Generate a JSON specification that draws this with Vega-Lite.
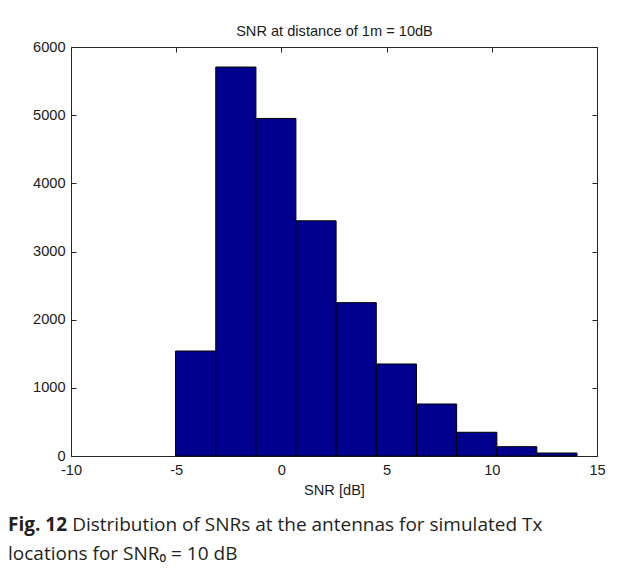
{
  "$schema": "https://vega.github.io/schema/vega-lite/v6.json",
  "autosize": "none",
  "width": 526,
  "height": 409,
  "padding": {"left": 71, "top": 47, "right": 29, "bottom": 121},
  "background": "white",
  "data": {
    "values": [
      {"lo": -5.03, "hi": -3.12, "count": 1540},
      {"lo": -3.12, "hi": -1.21, "count": 5706},
      {"lo": -1.21, "hi": 0.69, "count": 4952},
      {"lo": 0.69, "hi": 2.60, "count": 3450},
      {"lo": 2.60, "hi": 4.51, "count": 2250},
      {"lo": 4.51, "hi": 6.42, "count": 1350},
      {"lo": 6.42, "hi": 8.33, "count": 763},
      {"lo": 8.33, "hi": 10.24, "count": 348},
      {"lo": 10.24, "hi": 12.14, "count": 137},
      {"lo": 12.14, "hi": 14.05, "count": 44}
    ]
  },
  "title": {
    "text": "Fig. 12",
    "subtitle": ["\u200c\u00a0\u00a0\u00a0\u00a0\u00a0\u00a0\u00a0\u00a0\u00a0\u00a0\u00a0\u00a0\u00a0Distribution of SNRs at the antennas for simulated Tx", "locations for SNR\u2080 = 10 dB"],
    "orient": "bottom",
    "anchor": "start",
    "frame": "group",
    "dx": -63,
    "offset": 19,
    "font": "Open Sans",
    "fontSize": 19,
    "fontWeight": "bold",
    "color": "#231f20",
    "subtitleFont": "Open Sans",
    "subtitleFontSize": 19,
    "subtitleFontWeight": "normal",
    "subtitleColor": "#231f20",
    "subtitleLineHeight": 29,
    "subtitlePadding": -19
  },
  "layer": [
    {
      "mark": {"type": "bar", "fill": "#00008f", "stroke": "black", "strokeWidth": 1},
      "encoding": {
        "x": {
          "field": "lo", "type": "quantitative",
          "scale": {"domain": [-10, 15], "nice": false, "zero": false},
          "axis": {"orient": "bottom", "values": [-10, -5, 0, 5, 10, 15], "title": "SNR [dB]", "titlePadding": 6, "labelPadding": 11, "labelExpr": "datum.value + ''"}
        },
        "x2": {"field": "hi"},
        "y": {
          "field": "count", "type": "quantitative",
          "scale": {"domain": [0, 6000], "nice": false},
          "axis": {"orient": "left", "values": [0, 1000, 2000, 3000, 4000, 5000, 6000], "title": null, "labelPadding": 11, "labelExpr": "datum.value + ''"}
        },
        "y2": {"datum": 0}
      }
    },
    {
      "mark": {"type": "bar", "opacity": 0},
      "encoding": {
        "x": {
          "field": "lo", "type": "quantitative",
          "scale": {"domain": [-10, 15], "nice": false, "zero": false},
          "axis": {"orient": "top", "values": [-10, -5, 0, 5, 10, 15], "labels": false, "title": "SNR at distance of 1m = 10dB", "titlePadding": 8}
        },
        "x2": {"field": "hi"},
        "y": {
          "field": "count", "type": "quantitative",
          "scale": {"domain": [0, 6000], "nice": false},
          "axis": {"orient": "right", "values": [0, 1000, 2000, 3000, 4000, 5000, 6000], "labels": false, "title": null}
        },
        "y2": {"datum": 0}
      }
    }
  ],
  "resolve": {"axis": {"x": "independent", "y": "independent"}},
  "config": {
    "view": {"stroke": "#262626", "strokeWidth": 1},
    "axis": {
      "grid": false,
      "domainColor": "#262626",
      "tickColor": "#262626",
      "tickSize": -5,
      "labelPadding": 10,
      "labelFont": "Liberation Sans",
      "labelFontSize": 14.6,
      "labelColor": "#1a1a1a",
      "titleFont": "Liberation Sans",
      "titleFontSize": 14.6,
      "titleFontWeight": "normal",
      "titleColor": "#1a1a1a",
      "labelFlush": false
    }
  }
}
